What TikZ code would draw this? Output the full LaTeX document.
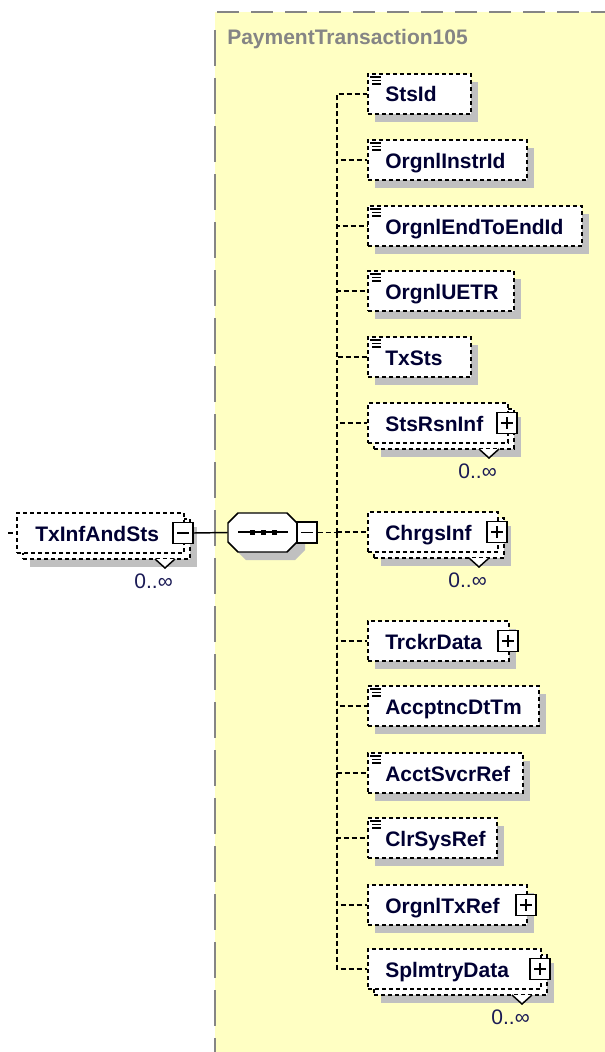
\documentclass[tikz,border=0pt]{standalone}
\usepackage{fontspec}
\setmainfont{Liberation Sans}
\usetikzlibrary{calc}
\definecolor{ylw}{HTML}{FFFFC3}
\definecolor{shd}{HTML}{C0C0C0}
\definecolor{ttl}{HTML}{858585}
\definecolor{ink}{HTML}{000033}
\definecolor{mult}{HTML}{1A1A55}
\newcommand\lblfont{\fontsize{15.75pt}{18pt}\selectfont\bfseries}
\newcommand\multfont{\fontsize{15.75pt}{18pt}\selectfont}
\begin{document}
\begin{tikzpicture}[x=0.75pt,y=-0.75pt,
  elbox/.style={draw, fill=white, dash pattern=on 3pt off 2.25pt, line width=1.2pt, inner sep=0, minimum height=30pt, anchor=west},
  pmbox/.style={draw, solid, fill=white, line width=1.1pt, inner sep=0, minimum width=15pt, minimum height=15.5pt},
  conn/.style={draw, line width=1.2pt, dash pattern=on 3.75pt off 2.25pt},
  lbl/.style={inner sep=0, text=ink, font=\lblfont, anchor=base west},
  multlbl/.style={inner sep=0, text=mult, font=\multfont, anchor=base east},
  icon/.style={line width=0.8pt}
]
\useasboundingbox (0,0) rectangle (605,1052);
\fill[white] (0,0) rectangle (605,1052);
% complex type area
\fill[ylw] (215,12) rectangle (605,1052);
\draw[ttl, line width=1.1pt, dash pattern=on 16.5pt off 9pt] (217,12) -- (605,12);
\draw[ttl, line width=1.1pt, dash pattern=on 27pt off 9pt] (215,30) -- (215,1052);
\node[inner sep=0, text=ttl, font=\lblfont, anchor=base west] (title) at (227,45) {PaymentTransaction105};

% TxInfAndSts (0..inf)
\fill[shd] (30,527) rectangle (197,567);
\node[elbox, minimum width=125.25pt] (tx-b) at (22,539) {};
\draw[line width=1.1pt, fill=white] (155,559) -- (165,568) -- (175,559);
\node[elbox, minimum width=125.25pt] (tx) at (16,533) {};
\node[lbl] (tx-t) at (35,541) {TxInfAndSts};
\node[multlbl] (tx-c) at (173,588) {0..∞};
\node[pmbox] (tx-m) at (183,533) {};
\draw[line width=1.1pt] (177,533) -- (189,533);
\coordinate (in) at (8,533);
\draw[conn] (in) -- (tx.west);

% sequence compositor
\fill[shd] (246,521) -- (295,521) -- (305,531) -- (305,550) -- (295,560) -- (246,560) -- (236,550) -- (236,531) -- cycle;
\node[inner sep=0, minimum width=51.75pt, minimum height=29.25pt] (seq) at (262.5,532.5) {};
\draw[line width=1.1pt, fill=white] (238,513) -- (287,513) -- (297,523) -- (297,542) -- (287,552) -- (238,552) -- (228,542) -- (228,523) -- cycle;
\draw[line width=1.1pt] (238,532) -- (288,532);
\foreach \sx in {252,263,274} {\fill (\sx-2.5,529.5) rectangle (\sx+2.5,534.5);}
\node[pmbox] (seq-m) at (307,532.5) {};
\draw[line width=1.1pt] (301,532.5) -- (313,532.5);
\draw[line width=1.1pt] (tx-m.east) -- (seq.west);
\coordinate (spine) at (337,532.5);
\draw[conn] (seq-m.east) -- (spine);

% children
\foreach \n/\y/\r/\k/\m in {StsId/94/470/0/0, OrgnlInstrId/160/526/0/0, OrgnlEndToEndId/226/581/0/0, OrgnlUETR/291/513/0/0, TxSts/357/470/0/0, StsRsnInf/423/507/1/1, ChrgsInf/532/497/1/1, TrckrData/641/508/1/0, AccptncDtTm/706/538/0/0, AcctSvcrRef/773/522/0/0, ClrSysRef/838/496/0/0, OrgnlTxRef/905/526/1/0, SplmtryData/969/540/1/1} {
  \pgfmathsetmacro\w{(\r-367)*0.75}
  \ifnum\m=1
    \fill[shd] (381,\y-6) rectangle (\r+14,\y+34);
    \node[elbox, minimum width=\w pt] (\n-b) at (373,\y+6) {};
    \draw[line width=1.1pt, fill=white] (\r-28,\y+26) -- (\r-18,\y+35) -- (\r-8,\y+26);
    \node[elbox, minimum width=\w pt] (\n) at (367,\y) {};
    \node[multlbl] (\n-c) at (\r-10,\y+55) {0..∞};
  \else
    \fill[shd] (375,\y-12) rectangle (\r+8,\y+28);
    \node[elbox, minimum width=\w pt] (\n) at (367,\y) {};
  \fi
  \node[lbl] (\n-t) at (385,\y+8) {\n};
  \ifnum\k=0
    \draw[icon] (370,\y-17) -- (381,\y-17) (372,\y-13.5) -- (381,\y-13.5) (372,\y-10) -- (381,\y-10);
  \else
    \node[pmbox] (\n-p) at (\r,\y) {};
    \draw[line width=1.1pt] (\r-6,\y) -- (\r+6,\y) (\r,\y-6) -- (\r,\y+6);
  \fi
  \draw[conn] (spine) |- (\n.west);
}
\end{tikzpicture}
\end{document}
